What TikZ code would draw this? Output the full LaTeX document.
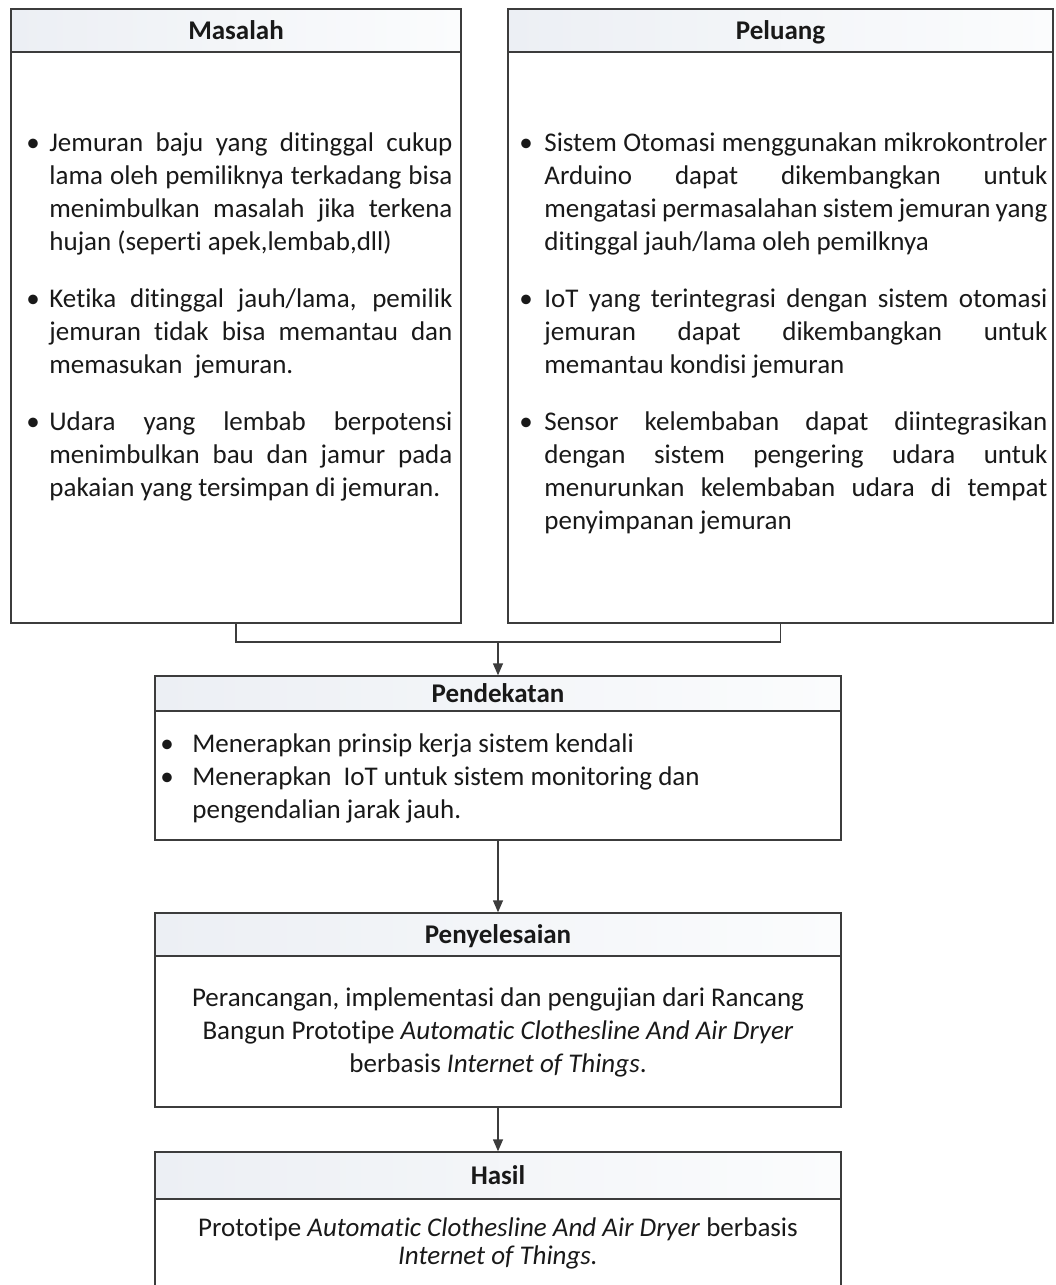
\documentclass[tikz,border=0pt]{standalone}
\usepackage{fontspec}
\setmainfont{Carlito}[Ligatures=NoCommon]
\usetikzlibrary{arrows.meta,positioning}
\definecolor{garis}{RGB}{60,60,60}
\definecolor{teks}{RGB}{25,25,25}
\definecolor{kepalaL}{RGB}{236,239,244}
\definecolor{kepalaR}{RGB}{251,252,253}
\newcommand{\butir}[2][11.5pt]{\par\hangindent=#1\hangafter=1\noindent\makebox[#1][l]{\textbullet}#2\par}

\begin{document}
\begin{tikzpicture}[x=0.5pt,y=-0.5pt,
		kotak/.style={draw=garis,line width=0.7pt,rectangle,inner sep=0pt},
		judul/.style={kotak,left color=kepalaL,right color=kepalaR,text=teks,text height=11.3pt,text depth=2pt,font=\bfseries\fontsize{13.5}{16.5}\selectfont},
		isi/.style={inner sep=0pt,text=teks,font=\fontsize{13.5}{16.5}\selectfont},
		panah/.style={draw=garis,line width=0.7pt,-{Triangle[length=6pt,width=5pt]}}]
			%%%%% START %%%%%
			\useasboundingbox (0,0) rectangle (1055,1285);
			
			% masalah
			\node[kotak,minimum width=225pt,minimum height=307pt] (masalah) at (236,316) {};
			\node[judul,minimum width=225pt,minimum height=21.5pt,below=0pt of masalah.north] (masalah-j) {Masalah};
			\node[isi,text width=213pt,align=justify,anchor=north west] (masalah-t) at (26,94) {\setlength{\parskip}{12pt}%
				\butir{Jemuran baju yang ditinggal cukup\linebreak lama oleh pemiliknya terkadang bisa\linebreak menimbulkan masalah jika terkena\linebreak hujan (seperti apek,lembab,dll)}
				\butir{Ketika ditinggal jauh/lama, pemilik\linebreak jemuran tidak bisa memantau dan\linebreak memasukan~ jemuran.}
				\butir{Udara yang lembab berpotensi\linebreak menimbulkan bau dan jamur pada\linebreak pakaian yang tersimpan di jemuran.}};
			
			% peluang
			\node[kotak,minimum width=272.5pt,minimum height=307pt] (peluang) at (780.5,316) {};
			\node[judul,minimum width=272.5pt,minimum height=21.5pt,below=0pt of peluang.north] (peluang-j) {Peluang};
			\node[isi,text width=264pt,align=justify,anchor=north west] (peluang-t) at (519,94) {\setlength{\parskip}{12pt}%
				\butir[12.5pt]{Sistem Otomasi menggunakan mikrokontroler\linebreak Arduino dapat dikembangkan untuk\linebreak mengatasi permasalahan sistem jemuran yang\linebreak ditinggal jauh/lama oleh pemilknya}
				\butir[12.5pt]{IoT yang terintegrasi dengan sistem otomasi\linebreak jemuran dapat dikembangkan untuk\linebreak memantau kondisi jemuran}
				\butir[12.5pt]{Sensor kelembaban dapat diintegrasikan\linebreak dengan sistem pengering udara untuk\linebreak menurunkan kelembaban udara di tempat\linebreak penyimpanan jemuran}};
			
			% pendekatan
			\node[kotak,minimum width=343pt,minimum height=82pt] (pendekatan) at (498,758) {};
			\node[judul,minimum width=343pt,minimum height=17.5pt,below=0pt of pendekatan.north] (pendekatan-j) {Pendekatan};
			\node[isi,text width=330pt,align=flush left,anchor=north west] (pendekatan-t) at (160,719) {%
				\butir[16pt]{Menerapkan prinsip kerja sistem kendali}
				\butir[16pt]{Menerapkan~ IoT untuk sistem monitoring dan\newline pengendalian jarak jauh.}};
			
			% penyelesaian
			\node[kotak,minimum width=343pt,minimum height=97pt] (penyelesaian) at (498,1010) {};
			\node[judul,minimum width=343pt,minimum height=21.5pt,below=0pt of penyelesaian.north] (penyelesaian-j) {Penyelesaian};
			\node[isi,align=center] (penyelesaian-t) at (498,1032) {Perancangan, implementasi dan pengujian dari Rancang\\
				Bangun Prototipe \textit{Automatic Clothesline And Air Dryer}\\
				berbasis \textit{Internet of Things}.};
			
			% hasil
			\node[kotak,minimum width=343pt,minimum height=74pt] (hasil) at (498,1226) {};
			\node[judul,minimum width=343pt,minimum height=23.5pt,below=0pt of hasil.north] (hasil-j) {Hasil};
			\node[isi,align=center,font=\fontsize{13.5}{14}\selectfont] (hasil-t) at (498,1243) {Prototipe \textit{Automatic Clothesline And Air Dryer} berbasis\\
				\textit{Internet of Things.}};
			
			% panah
			\coordinate (gabung) at (498,642);
			\draw[garis,line width=0.7pt] (masalah.south) |- (gabung) -| (peluang.south);
			\draw[panah] (gabung) -- (pendekatan);
			\draw[panah] (pendekatan) -- (penyelesaian);
			\draw[panah] (penyelesaian) -- (hasil);
			%%%%% END %%%%%
		\end{tikzpicture}
\end{document}
